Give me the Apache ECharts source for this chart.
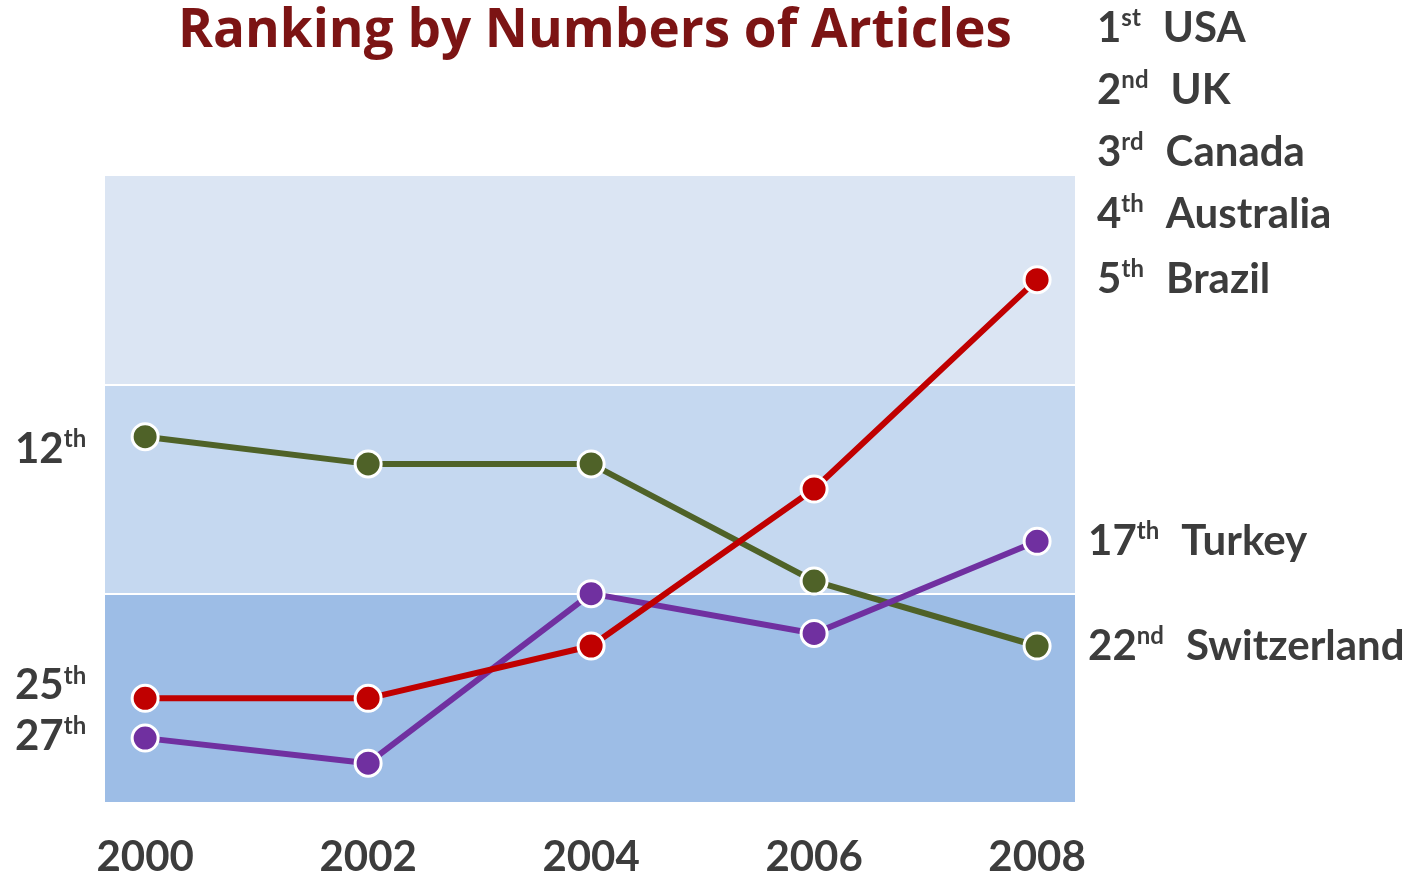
<!DOCTYPE html>
<html>
<head>
<meta charset="utf-8">
<script src="https://cdn.jsdelivr.net/npm/echarts@6/dist/echarts.min.js"></script>
<style>
  html, body { margin: 0; padding: 0; background: #fff; }
  #chart { width: 1426px; height: 872px; }
</style>
</head>
<body>
<div id="chart"></div>
<script>
// years on the x axis
var years = [2000, 2002, 2004, 2006, 2008];
// ranking positions (smaller = better, axis inverted)
var brazil = [25.0, 25.0, 22.5, 15.0, 5.0];
var turkey = [26.9, 28.1, 20.0, 21.9, 17.5];
var switzerland = [12.5, 13.8, 13.8, 19.4, 22.5];
// left rank labels and where they sit on the rank axis
var rankLabels = ['12', '25', '27'];
var rankLabelSup = ['th', 'th', 'th'];
var rankLabelAt = [13.1, 24.4, 26.8];
// top-right list
var topList = [['1', 'st', 'USA'], ['2', 'nd', 'UK'], ['3', 'rd', 'Canada'], ['4', 'th', 'Australia']];

var textColor = '#3c3c3c';
var font = 'Lato';

function pairs(vals) {
  return years.map(function (y, i) { return [y, vals[i]]; });
}

var richStyle = {
  n: { fontFamily: font, fontWeight: 'bold', fontSize: 42, color: textColor },
  s: { fontFamily: font, fontWeight: 'bold', fontSize: 24, color: textColor, padding: [0, 0, 20, 0] },
  g: { fontSize: 42, width: 22 }
};

var chart = echarts.init(document.getElementById('chart'));

function lineSeries(name, data, color, label) {
  return {
    name: name,
    type: 'line',
    data: pairs(data),
    symbol: 'circle',
    symbolSize: 26,
    lineStyle: { width: 6, color: color },
    itemStyle: { color: color, borderColor: '#fff', borderWidth: 3 },
    z: 3,
    endLabel: {
      show: true,
      distance: label.dist,
      formatter: label.text,
      rich: richStyle
    }
  };
}

chart.setOption({
  animation: false,
  title: [
    {
      text: 'Ranking by Numbers of Articles',
      left: 178,
      top: 5,
      padding: 0,
      textStyle: { fontFamily: 'Open Sans', fontWeight: 'bold', fontSize: 53, color: '#7c1414' }
    },
    {
      text: topList.map(function (r) { return '{n|' + r[0] + '}{s|' + r[1] + '}{g|}{n|' + r[2] + '}'; }).join('\n'),
      left: 1097,
      top: -3,
      padding: 0,
      textStyle: { lineHeight: 62, rich: {
        n: { fontFamily: font, fontWeight: 'bold', fontSize: 42, color: textColor, lineHeight: 62 },
        s: richStyle.s,
        g: richStyle.g
      } }
    }
  ],
  grid: { left: 105, right: 351, top: 175, bottom: 69, outerBoundsMode: 'none' },
  xAxis: {
    type: 'value',
    min: 1999.64,
    max: 2008.34,
    axisLine: { show: false },
    axisTick: { show: false },
    splitLine: { show: false },
    axisLabel: {
      customValues: years,
      margin: 33,
      fontFamily: font,
      fontWeight: 'bold',
      fontSize: 42,
      color: textColor,
      formatter: function (v) { return String(v); }
    }
  },
  yAxis: {
    type: 'value',
    inverse: true,
    min: 0,
    max: 30,
    interval: 10,
    axisLine: { show: false },
    axisTick: { show: false },
    splitLine: { show: true, lineStyle: { color: '#ffffff', width: 2 } },
    splitArea: { show: true, areaStyle: { color: ['#dbe5f3', '#c5d8f0', '#9dbde6'], opacity: 1 } },
    axisLabel: {
      customValues: rankLabelAt,
      align: 'left',
      margin: 90,
      formatter: function (v) {
        var i = rankLabelAt.indexOf(v);
        return '{n|' + rankLabels[i] + '}{s|' + rankLabelSup[i] + '}';
      },
      rich: richStyle
    }
  },
  series: [
    lineSeries('Switzerland', switzerland, '#4f6228', { dist: 51, text: '{n|22}{s|nd}{g|}{n|Switzerland}' }),
    lineSeries('Turkey', turkey, '#7030a0', { dist: 51, text: '{n|17}{s|th}{g|}{n|Turkey}' }),
    lineSeries('Brazil', brazil, '#c00000', { dist: 60, text: '{n|5}{s|th}{g|}{n|Brazil}' })
  ]
});
</script>
</body>
</html>
